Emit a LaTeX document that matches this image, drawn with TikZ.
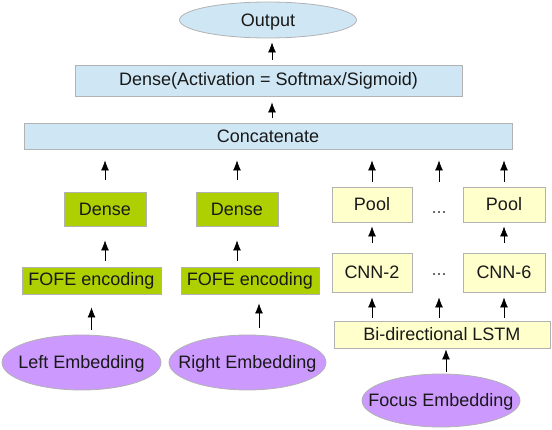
\documentclass[tikz,border=0pt]{standalone}
\usepackage{fontspec}
\setmainfont{Liberation Sans}
\usetikzlibrary{arrows.meta,shapes.geometric}
\definecolor{lblue}{HTML}{CFE7F5}
\definecolor{lgreen}{HTML}{AFD000}
\definecolor{lyellow}{HTML}{FFFFCC}
\definecolor{lpurple}{HTML}{CC99FF}
\definecolor{bord}{HTML}{B2B2B2}
\newcommand{\elltext}[1]{\smash{\raisebox{-0.35em}{\makebox[0pt]{#1}}}}
\tikzset{
  base/.style={draw=bord, line width=0.8pt, inner sep=0pt, font=\fontsize{18}{21}\selectfont, text=black!90},
  bluebox/.style={base, fill=lblue, rectangle},
  greenbox/.style={base, fill=lgreen, rectangle},
  yellowbox/.style={base, fill=lyellow, rectangle},
  purpleell/.style={base, fill=lpurple, ellipse},
  blueell/.style={base, fill=lblue, ellipse},
  dotsnode/.style={inner sep=0pt, font=\fontsize{18}{21}\selectfont, text=black!70},
  arr/.style={-{Latex[length=10pt,width=8pt]}, line width=0.7pt, black}
}
\begin{document}
\begin{tikzpicture}[x=1pt,y=-1pt]
\useasboundingbox (0,0) rectangle (552,430);
% top
\node[blueell, minimum width=177pt, minimum height=36pt] (out) at (268,20) {\elltext{Output}};
\node[bluebox, minimum width=387pt, minimum height=31pt] (dact) at (268.5,80.5) {Dense(Activation = Softmax/Sigmoid)};
\node[bluebox, minimum width=488pt, minimum height=26pt] (concat) at (268,136) {Concatenate};
% left branch
\node[greenbox, minimum width=82pt, minimum height=34pt] (dL) at (105,209) {Dense};
\node[greenbox, minimum width=82pt, minimum height=34pt] (dR) at (237,209) {Dense};
\node[greenbox, minimum width=139pt, minimum height=27pt] (fL) at (91.5,280.5) {FOFE encoding};
\node[greenbox, minimum width=138pt, minimum height=27pt] (fR) at (250,280.5) {FOFE encoding};
\node[purpleell, minimum width=159pt, minimum height=55pt] (eL) at (81.5,362.5) {\elltext{Left Embedding}};
\node[purpleell, minimum width=157pt, minimum height=55pt] (eR) at (247.5,362.5) {\elltext{Right Embedding}};
% right branch
\node[yellowbox, minimum width=80pt, minimum height=35pt] (pL) at (372,204.5) {Pool};
\node[yellowbox, minimum width=82pt, minimum height=35pt] (pR) at (504,204.5) {Pool};
\node[dotsnode] (pD) at (439,213) {...};
\node[yellowbox, minimum width=80pt, minimum height=39pt] (cL) at (372,272.5) {CNN-2};
\node[yellowbox, minimum width=82pt, minimum height=39pt] (cR) at (504,272.5) {CNN-6};
\node[dotsnode] (cD) at (439,275) {...};
\node[yellowbox, minimum width=216pt, minimum height=27pt] (lstm) at (442,334.5) {Bi-directional LSTM};
\node[purpleell, minimum width=158pt, minimum height=53pt] (eF) at (441,400.5) {\elltext{Focus Embedding}};
% arrows top
\draw[arr, shorten <=5pt, shorten >=4pt] (dact.north -| 272,0) -- (out.south -| 272,0);
\draw[arr, shorten <=5pt, shorten >=6pt] (concat.north -| 272,0) -- (dact.south -| 272,0);
% into concatenate
\draw[arr, shorten <=12pt, shorten >=11pt] (dL.north) -- (dL.north |- concat.south);
\draw[arr, shorten <=12pt, shorten >=11pt] (dR.north) -- (dR.north |- concat.south);
\draw[arr, shorten <=5pt, shorten >=11pt] (pL.north) -- (pL.north |- concat.south);
\draw[arr, shorten <=5pt, shorten >=11pt] (pR.north) -- (pR.north |- concat.south);
\draw[arr, shorten <=5pt, shorten >=11pt] (pD.north |- pL.north) -- (pD.north |- concat.south);
% left side
\draw[arr, shorten <=6pt, shorten >=14pt] (fL.north -| dL) -- (dL.south);
\draw[arr, shorten <=6pt, shorten >=14pt] (fR.north -| dR) -- (dR.south);
\draw[arr, shorten <=5pt, shorten >=13pt] (eL.north -| fL) -- (fL.south);
\draw[arr, shorten <=7pt, shorten >=9pt] (eR.north -| 259,0) -- (fR.south -| 259,0);
% right side
\draw[arr, shorten <=10pt, shorten >=4pt] (cL.north) -- (pL.south);
\draw[arr, shorten <=10pt, shorten >=4pt] (cR.north) -- (pR.south);
\draw[arr, shorten <=3pt, shorten >=5pt] (lstm.north -| cL) -- (cL.south);
\draw[arr, shorten <=3pt, shorten >=5pt] (lstm.north -| cR) -- (cR.south);
\draw[arr, shorten <=3pt, shorten >=5pt] (lstm.north -| cD) -- (cD |- cL.south);
\draw[arr, shorten <=2pt, shorten >=1pt] (eF.north -| 446,0) -- (lstm.south -| 446,0);
\end{tikzpicture}
\end{document}
